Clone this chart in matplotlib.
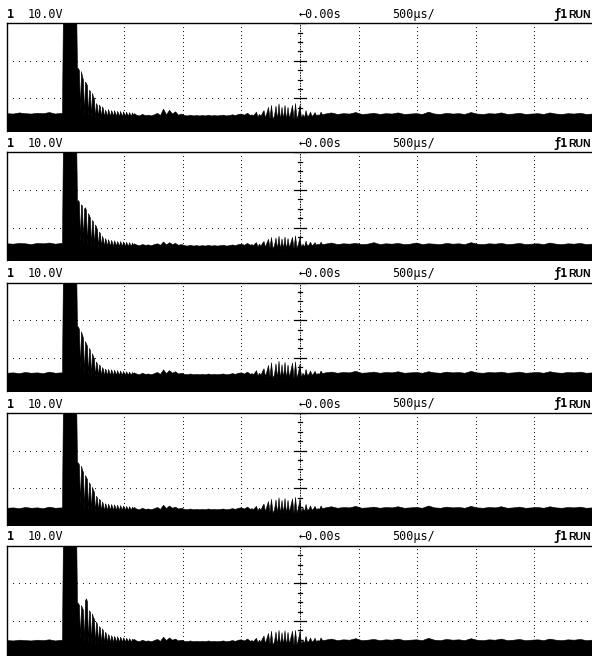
import numpy as np
import matplotlib
matplotlib.use("Agg")
import matplotlib.pyplot as plt

FIG_W, FIG_H = 592, 656

# ---- header labels ----
channel_label = "1"
volts_label = "10.0V"
delay_label = "←0.00s"
timebase_label = "500µs/"
trigger_label = "ƒ1"
run_label = "RUN"

# ---- time base (ms): 500 µs/div, screen from -2.5 ms ----
t_left = (-2.500, -2.039)
spike_t = [-2.031, -2.022, -1.911]
t_ring1 = (-1.903, -1.416)
t_mid = (-1.399, -0.452)
t_ring2 = (-0.427, 0.188)
t_right = (0.213, 2.491)

# ---- traces (upper envelope, volts), segments: left, spike, ring1, mid, ring2, right ----
trace1 = (
    [16.1, 16.0, 16.3, 16.1, 16.0, 16.2, 16.1, 16.4, 16.0, 16.2],
    [16.1, 46.0, 46.0],
    [28.1, 28.1, 27.5, 17.0, 27.3, 26.0, 25.0, 15.5, 24.5, 24.1, 23.5, 15.2, 22.3, 22.0, 15.0, 21.5,
     20.5, 20.1, 14.8, 18.8, 18.2, 15.0, 18.4, 17.8, 14.9, 17.9, 17.3, 15.0,
     17.0, 16.5, 15.1, 17.2, 16.4, 15.2, 16.9, 16.4, 15.2, 16.9, 16.2, 15.3, 16.7, 16.2, 15.2, 16.7,
     16.0, 15.3, 16.6, 16.0, 15.4, 16.5, 15.9, 15.4, 16.4, 15.8, 15.5, 16.3, 15.7, 16.1],
    [15.7, 15.5, 15.9, 15.6, 15.7, 15.5, 15.8, 16.2, 15.6, 17.3, 15.8, 17.0, 16.0, 16.6, 15.7, 16.0,
     15.6, 15.5, 15.7, 15.5, 15.6, 15.5, 15.6, 15.5, 15.7, 15.5, 15.6, 15.5, 15.6, 15.7, 15.5, 15.6,
     15.8, 15.6, 15.9, 16.0, 15.7, 16.2],
    [15.6, 15.8, 15.5, 16.0, 16.5, 15.2, 15.9, 15.4, 16.2, 16.9, 15.0, 16.3, 17.8, 14.8, 18.3, 14.6,
     15.5, 18.1, 14.5, 18.7, 14.4, 17.8, 14.6, 18.3, 14.4, 17.8, 14.8, 16.5, 18.3, 14.5, 18.8, 14.6,
     16.0, 18.3, 14.8, 15.9, 15.0, 16.9, 15.3, 15.6, 16.5, 15.4, 15.7, 16.4, 15.5, 15.8, 15.6, 16.5, 15.8],
    [16.0, 16.3, 15.9, 16.1, 16.0, 16.4, 15.9, 16.0, 16.2, 15.9, 16.1, 16.0, 16.3, 15.9, 16.0, 16.1,
     15.9, 16.5, 16.0, 15.9, 16.2, 16.0, 16.1, 15.9, 16.4, 16.0, 15.9, 16.1, 16.0, 16.3, 15.9, 16.0,
     16.2, 15.9, 16.0, 16.1, 15.9, 16.3, 16.0, 15.9, 16.1, 16.0, 16.2, 15.9, 16.0],
)
trace2 = (
    [15.8, 15.7, 15.9, 15.8, 15.6, 15.9, 15.8, 16.0, 15.7, 15.9],
    [15.8, 46.0, 46.0],
    [27.0, 27.3, 26.8, 16.5, 26.2, 25.8, 16.0, 25.0, 25.4, 24.6, 15.4, 23.8, 23.3, 22.5, 15.0, 22.0,
     21.6, 14.9, 20.8, 20.3, 19.5, 14.8, 18.9, 18.5, 14.8, 17.8, 17.0, 14.9,
     17.2, 16.5, 15.0, 16.9, 16.2, 15.0, 16.7, 16.1, 15.0, 16.6, 16.0, 15.1, 16.4, 15.9, 15.0, 16.4,
     15.8, 15.1, 16.3, 15.7, 15.1, 16.2, 15.6, 15.1, 16.1, 15.5, 15.2, 16.0, 15.4, 15.8],
    [15.5, 15.3, 15.6, 15.4, 15.5, 15.3, 15.6, 15.8, 15.4, 16.3, 15.5, 16.1, 15.6, 15.9, 15.4, 15.6,
     15.3, 15.2, 15.4, 15.2, 15.3, 15.2, 15.3, 15.2, 15.4, 15.2, 15.3, 15.2, 15.3, 15.4, 15.2, 15.3,
     15.5, 15.3, 15.6, 15.7, 15.4, 15.9],
    [15.4, 15.6, 15.3, 15.8, 16.1, 15.0, 15.7, 15.2, 15.9, 16.4, 14.9, 16.0, 17.0, 14.7, 17.5, 14.5,
     15.3, 17.3, 14.4, 17.8, 14.3, 17.1, 14.5, 17.6, 14.3, 17.2, 14.7, 16.2, 17.5, 14.4, 17.9, 14.5,
     15.8, 17.4, 14.7, 15.7, 14.9, 16.5, 15.2, 15.5, 16.2, 15.3, 15.6, 16.1, 15.4, 15.7, 15.5, 16.2, 15.6],
    [15.7, 16.0, 15.6, 15.8, 15.7, 15.9, 15.6, 15.7, 16.1, 15.6, 15.8, 15.7, 15.9, 15.6, 15.7, 16.0,
     15.6, 15.8, 15.7, 15.6, 15.9, 15.7, 15.8, 15.6, 16.1, 15.7, 15.6, 15.8, 15.7, 15.9, 15.6, 15.7,
     15.9, 15.6, 15.7, 15.8, 15.6, 16.0, 15.7, 15.6, 15.8, 15.7, 15.9, 15.6, 15.7],
)
trace3 = (
    [16.0, 16.1, 15.9, 16.2, 16.0, 16.1, 15.9, 16.3, 16.0, 16.1],
    [16.0, 46.0, 46.0],
    [28.4, 28.3, 27.6, 17.2, 27.0, 26.2, 25.3, 15.6, 24.4, 23.8, 23.2, 15.3, 22.6, 22.0, 15.1, 21.2,
     20.4, 19.8, 14.9, 19.0, 18.4, 15.1, 18.2, 17.8, 15.0, 17.5, 17.0, 15.1,
     17.1, 16.6, 15.2, 17.0, 16.4, 15.3, 16.9, 16.3, 15.3, 16.8, 16.2, 15.4, 16.7, 16.1, 15.4, 16.6,
     16.0, 15.5, 16.5, 15.9, 15.5, 16.4, 15.9, 15.5, 16.3, 15.8, 15.6, 16.2, 15.8, 16.1],
    [15.8, 15.6, 16.0, 15.7, 15.8, 15.6, 15.9, 16.2, 15.7, 16.9, 15.9, 16.7, 16.0, 16.4, 15.8, 16.0,
     15.7, 15.6, 15.8, 15.6, 15.7, 15.6, 15.7, 15.6, 15.8, 15.6, 15.7, 15.6, 15.7, 15.8, 15.6, 15.7,
     15.9, 15.7, 16.0, 16.1, 15.8, 16.3],
    [15.7, 15.9, 15.6, 16.1, 16.7, 15.3, 16.0, 15.5, 16.4, 17.2, 15.1, 16.5, 18.1, 14.9, 18.8, 14.7,
     15.6, 18.5, 14.6, 19.2, 14.5, 18.3, 14.7, 18.9, 14.5, 18.2, 14.9, 16.8, 18.7, 14.6, 19.0, 14.7,
     16.2, 18.4, 14.9, 16.0, 15.1, 17.0, 15.4, 15.7, 16.6, 15.5, 15.8, 16.5, 15.6, 15.9, 15.7, 16.6, 15.9],
    [16.1, 16.3, 16.0, 16.2, 16.1, 16.5, 16.0, 16.1, 16.3, 16.0, 16.2, 16.1, 16.4, 16.0, 16.1, 16.2,
     16.0, 16.4, 16.1, 16.0, 16.3, 16.1, 16.2, 16.0, 16.5, 16.1, 16.0, 16.2, 16.1, 16.3, 16.0, 16.1,
     16.3, 16.0, 16.1, 16.2, 16.0, 16.4, 16.1, 16.0, 16.2, 16.1, 16.3, 16.0, 16.1],
)
trace4 = (
    [14.8, 14.9, 14.7, 15.0, 14.8, 14.9, 14.7, 15.1, 14.8, 14.9],
    [14.8, 46.0, 46.0],
    [27.0, 26.8, 26.3, 15.8, 26.0, 25.0, 24.3, 14.4, 23.5, 23.0, 22.4, 14.1, 21.6, 21.0, 13.9, 20.4,
     19.6, 19.0, 13.7, 18.0, 17.5, 13.9, 17.2, 16.8, 13.8, 16.5, 15.8, 13.9,
     16.0, 15.5, 14.0, 15.9, 15.3, 14.1, 15.8, 15.2, 14.1, 15.7, 15.1, 14.2, 15.6, 15.0, 14.2, 15.5,
     14.9, 14.3, 15.4, 14.8, 14.3, 15.3, 14.8, 14.3, 15.2, 14.7, 14.4, 15.1, 14.7, 15.0],
    [14.6, 14.4, 14.8, 14.5, 14.6, 14.4, 14.7, 15.0, 14.5, 15.6, 14.7, 15.4, 14.8, 15.1, 14.6, 14.8,
     14.5, 14.4, 14.6, 14.4, 14.5, 14.4, 14.5, 14.4, 14.6, 14.4, 14.5, 14.4, 14.5, 14.6, 14.4, 14.5,
     14.7, 14.5, 14.8, 14.9, 14.6, 15.1],
    [14.5, 14.7, 14.4, 14.9, 15.3, 14.1, 14.8, 14.3, 15.2, 15.9, 13.9, 15.3, 16.6, 13.7, 17.2, 13.5,
     14.4, 17.0, 13.4, 17.6, 13.3, 16.9, 13.5, 17.4, 13.3, 16.9, 13.7, 15.6, 17.3, 13.4, 17.7, 13.5,
     15.0, 17.2, 13.7, 14.9, 13.9, 15.8, 14.2, 14.5, 15.4, 14.3, 14.6, 15.3, 14.4, 14.7, 14.5, 15.4, 14.7],
    [14.9, 15.2, 14.8, 15.0, 14.9, 15.3, 14.8, 14.9, 15.1, 14.8, 15.0, 14.9, 15.2, 14.8, 14.9, 15.0,
     14.8, 15.4, 14.9, 14.8, 15.1, 14.9, 15.0, 14.8, 15.3, 14.9, 14.8, 15.0, 14.9, 15.2, 14.8, 14.9,
     15.1, 14.8, 14.9, 15.0, 14.8, 15.2, 14.9, 14.8, 15.0, 14.9, 15.1, 14.8, 14.9],
)
trace5 = (
    [14.9, 14.8, 15.0, 14.9, 14.8, 15.0, 14.9, 15.1, 14.8, 15.0],
    [14.9, 46.0, 46.0],
    [25.0, 24.7, 24.3, 15.2, 24.2, 23.6, 23.0, 14.3, 25.5, 26.0, 25.2, 14.1, 22.8, 22.4, 13.9, 22.0,
     21.0, 20.6, 13.8, 19.8, 19.2, 13.9, 18.6, 18.2, 13.8, 18.0, 17.4, 13.9,
     17.1, 16.6, 14.0, 16.5, 16.0, 14.1, 16.2, 15.7, 14.2, 16.0, 15.5, 14.3, 15.9, 15.4, 14.3, 15.8,
     15.3, 14.4, 15.6, 15.2, 14.4, 15.5, 15.1, 14.5, 15.4, 15.0, 14.5, 15.3, 15.0, 15.2],
    [14.8, 14.6, 15.0, 14.7, 14.8, 14.6, 14.9, 15.2, 14.7, 15.8, 14.9, 15.6, 15.0, 15.3, 14.8, 15.0,
     14.7, 14.6, 14.8, 14.6, 14.7, 14.6, 14.7, 14.6, 14.8, 14.6, 14.7, 14.6, 14.7, 14.8, 14.6, 14.7,
     14.9, 14.7, 15.0, 15.1, 14.8, 15.3],
    [14.7, 14.9, 14.6, 15.1, 15.5, 14.3, 15.0, 14.5, 15.4, 16.1, 14.1, 15.5, 16.8, 13.9, 17.4, 13.7,
     14.6, 17.2, 13.6, 17.6, 13.5, 17.0, 13.7, 17.5, 13.5, 17.1, 13.9, 15.8, 17.4, 13.6, 17.6, 13.7,
     15.2, 17.3, 13.9, 15.1, 14.1, 16.0, 14.4, 14.7, 15.6, 14.5, 14.8, 15.5, 14.6, 14.9, 14.7, 15.6, 14.9],
    [15.0, 15.3, 14.9, 15.1, 15.0, 15.4, 14.9, 15.0, 15.2, 14.9, 15.1, 15.0, 15.3, 14.9, 15.0, 15.1,
     14.9, 15.5, 15.0, 14.9, 15.2, 15.0, 15.1, 14.9, 15.4, 15.0, 14.9, 15.1, 15.0, 15.3, 14.9, 15.0,
     15.2, 14.9, 15.0, 15.1, 14.9, 15.3, 15.0, 14.9, 15.1, 15.0, 15.2, 14.9, 15.0],
)
traces = [trace1, trace2, trace3, trace4, trace5]

# ---- layout (pixels) ----
panel_tops = [23.3, 152.3, 282.5, 413.0, 545.7]
panel_bots = [131.0, 260.0, 391.0, 525.0, 656.0]
AX_LEFT, AX_RIGHT = 7.0, 592.0
PX_PER_V = 3.76
V_TOP = 40.0
T_MIN, T_MAX = -2.5, 2.491


def build(trace):
    left, spike, ring1, mid, ring2, right = trace
    t = np.concatenate([
        np.linspace(*t_left, len(left)), np.array(spike_t),
        np.linspace(*t_ring1, len(ring1)), np.linspace(*t_mid, len(mid)),
        np.linspace(*t_ring2, len(ring2)), np.linspace(*t_right, len(right)),
    ])
    v = np.concatenate([left, spike, ring1, mid, ring2, right])
    return t, v


fig = plt.figure(figsize=(FIG_W / 100, FIG_H / 100), dpi=100)
fig.patch.set_facecolor("white")

mono = "DejaVu Sans Mono"
fs = 8.5

for k, tr in enumerate(traces):
    top, bot = panel_tops[k], panel_bots[k]
    ax = fig.add_axes([AX_LEFT / FIG_W, 1 - bot / FIG_H,
                       (AX_RIGHT - AX_LEFT) / FIG_W, (bot - top) / FIG_H])
    ymin = V_TOP - (bot - top) / PX_PER_V
    ax.set_xlim(T_MIN, T_MAX)
    ax.set_ylim(ymin, V_TOP)
    ax.set_xticks([])
    ax.set_yticks([])
    for s in ["right", "bottom"]:
        ax.spines[s].set_visible(False)
    for s in ["top", "left"]:
        ax.spines[s].set_linewidth(1.0)
        ax.spines[s].set_color("black")

    # dotted graticule
    ys = np.arange(V_TOP, ymin, -1.0)
    for gx in [-2.0, -1.5, -1.0, -0.5, 0.5, 1.0, 1.5, 2.0]:
        ax.plot(np.full_like(ys, gx), ys, ls="none", marker="s", ms=0.75,
                mec="none", mfc="#222222", zorder=1)
    xs = np.arange(T_MIN + 0.05, T_MAX, 0.05)
    for gy in [30.0, 20.0]:
        ax.plot(xs, np.full_like(xs, gy), ls="none", marker="s", ms=0.75,
                mec="none", mfc="#222222", zorder=1)

    # centre axis with ticks
    ax.plot([0, 0], [ymin, V_TOP], color="black", lw=0.7, ls=(0, (1.5, 1.2)), zorder=2)
    tick_v = np.arange(V_TOP, ymin, -2.5)
    for tv in tick_v:
        major = abs(tv % 10.0) < 1e-6
        half = 0.05 if major else 0.02
        ax.plot([-half, half], [tv, tv], color="black", lw=0.9, zorder=2)

    # trace
    t, v = build(tr)
    ax.fill_between(t, v, ymin - 5, color="black", lw=0.4, ec="black", zorder=3)

    # header
    ybase = 1 - (top - 5.5) / FIG_H
    fig.text(7 / FIG_W, ybase, channel_label, fontsize=fs, family=mono,
             fontweight="bold", va="baseline")
    fig.text(28 / FIG_W, ybase, volts_label, fontsize=fs, family=mono, va="baseline")
    fig.text(299 / FIG_W, ybase, delay_label, fontsize=fs, family=mono, va="baseline")
    fig.text(392 / FIG_W, ybase, timebase_label, fontsize=fs, family=mono, va="baseline")
    fig.text(553 / FIG_W, ybase, trigger_label, fontsize=fs, family=mono,
             fontweight="bold", va="baseline")
    fig.text(591 / FIG_W, ybase, run_label, fontsize=7.5, family="Liberation Sans",
             fontweight="bold", va="baseline", ha="right")

fig.savefig("out.png", dpi=100, facecolor="white")
